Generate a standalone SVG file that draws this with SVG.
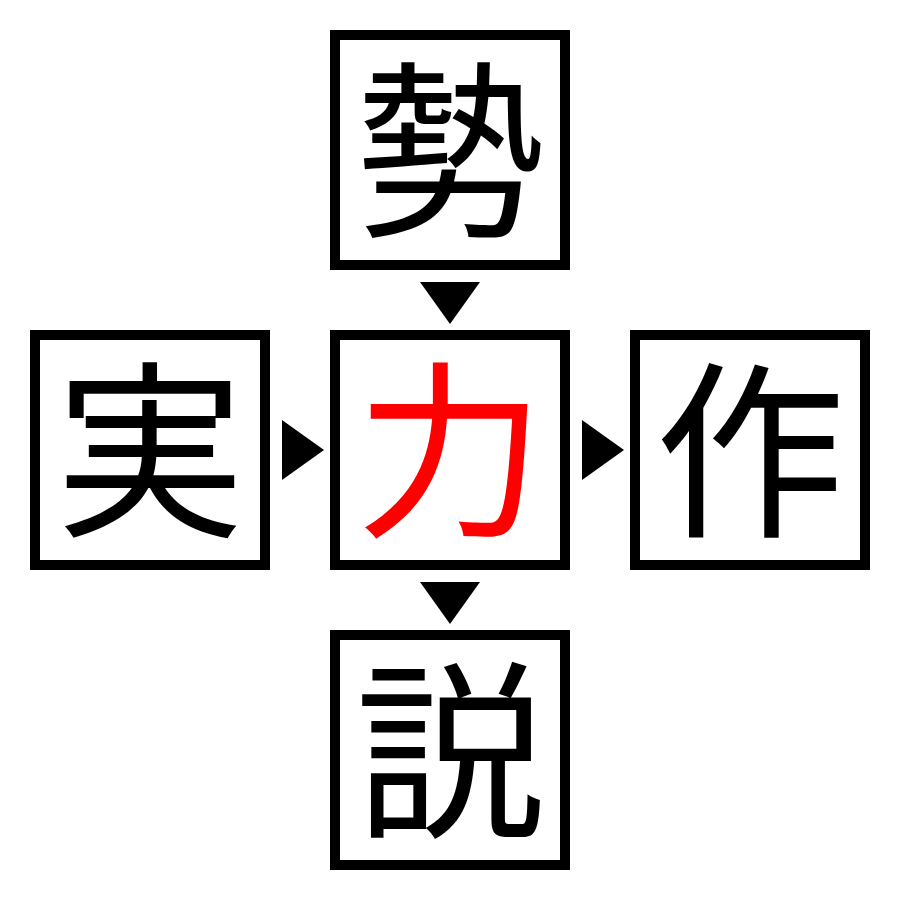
<svg xmlns="http://www.w3.org/2000/svg" width="900" height="900" viewBox="0 0 900 900">
<style>
.box{fill:#fff;stroke:#000;stroke-width:10}
.ch{font-family:"Noto Sans CJK JP","Noto Sans CJK SC",serif;font-size:190px;text-anchor:middle;fill:#000}
.red{fill:#ff0000}
.arr{fill:#000}
</style>
<rect width="900" height="900" fill="#fff"/>
<g id="node-top"><rect class="box" x="335" y="35" width="230" height="230"/><text class="ch" x="450" y="222">勢</text></g>
<g id="node-left"><rect class="box" x="35" y="335" width="230" height="230"/><text class="ch" x="150" y="522">実</text></g>
<g id="node-center"><rect class="box" x="335" y="335" width="230" height="230"/><text class="ch red" x="450" y="522">力</text></g>
<g id="node-right"><rect class="box" x="635" y="335" width="230" height="230"/><text class="ch" x="750" y="522">作</text></g>
<g id="node-bottom"><rect class="box" x="335" y="635" width="230" height="230"/><text class="ch" x="450" y="822">説</text></g>
<g id="connectors">
<polygon class="arr" points="420,282 480,282 450,324"/>
<polygon class="arr" points="282,420 282,480 324,450"/>
<polygon class="arr" points="582,420 582,480 624,450"/>
<polygon class="arr" points="420,582 480,582 450,624"/>
</g>
</svg>
